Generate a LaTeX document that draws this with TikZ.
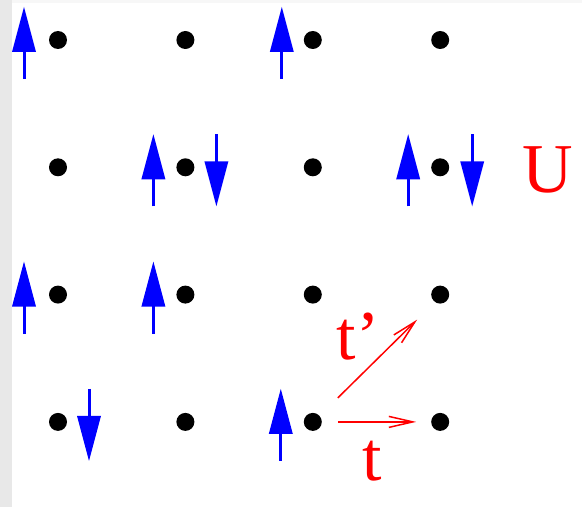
\documentclass[tikz,border=0pt]{standalone}
\usepackage{fontspec}
\setmainfont{Liberation Serif}
\usepackage{xcolor}
\usepackage{tikz}
\usetikzlibrary{arrows.meta, positioning}

\begin{document}
\begin{tikzpicture}[x=1pt, y=1pt,
        site/.style={circle, fill=black, inner sep=0pt, minimum size=18pt},
        pics/upspin/.style={code={
            \draw[blue, line width=3pt] (0,-39) -- (0,-10);
            \fill[blue] (-12,-12) -- (12,-12) -- (0,33) -- cycle;}},
        pics/downspin/.style={code={
            \draw[blue, line width=3pt] (0,33) -- (0,4);
            \fill[blue] (-12,6) -- (12,6) -- (0,-39) -- cycle;}},
        hop/.style={draw=red, line width=1.5pt, -{Straight Barb[length=24pt, width=11pt]}},
        lbl/.style={text=red, inner sep=0pt, anchor=base, font=\fontsize{70}{70}\selectfont}]
        \useasboundingbox (0,0) rectangle (582,507);
        \fill[black!9] (0,0) rectangle (12,507);
        \fill[black!3] (12,504) rectangle (582,507);
%	
        \foreach \i in {0,...,3}
            \foreach \j in {0,...,3}
                \node[site] (s\i\j) at ({58+127.4*\i},{467-127.3*\j}) {};
%	
        \pic at ([xshift=-34pt]s00.center) {upspin};
        \pic at ([xshift=-31pt]s20.center) {upspin};
        \pic at ([xshift=-32pt]s11.center) {upspin};
        \pic at ([xshift=31pt]s11.center) {downspin};
        \pic at ([xshift=-32pt]s31.center) {upspin};
        \pic at ([xshift=32pt]s31.center) {downspin};
        \pic at ([xshift=-34pt]s02.center) {upspin};
        \pic at ([xshift=-32pt]s12.center) {upspin};
        \pic at ([xshift=31pt]s03.center) {downspin};
        \pic at ([xshift=-32pt]s23.center) {upspin};
%	
        \node[lbl] (U) at (548,314) {U};
        \draw[hop] ([xshift=25pt]s23.center) -- ([xshift=-24pt]s33.center);
        \draw[hop] ([shift={(25,24)}]s23.center) -- ([shift={(-23,-25)}]s32.center);
        \node[lbl] (t) at (372,27) {t};
        \node[lbl] (tp) at (358,147) {t'};
\end{tikzpicture}
\end{document}
